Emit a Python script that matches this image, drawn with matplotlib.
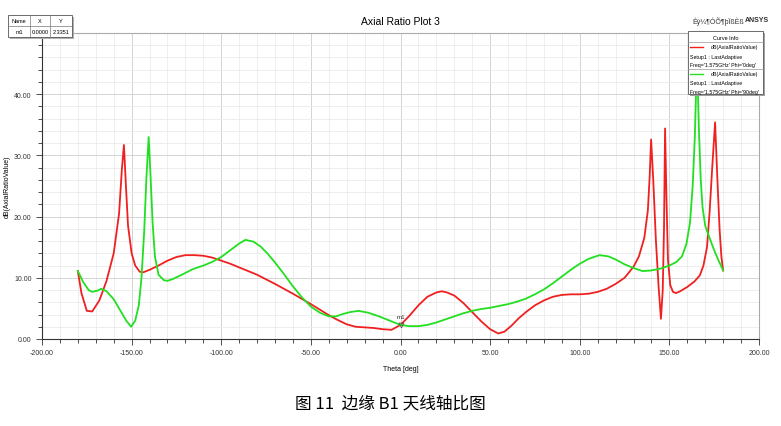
import numpy as np
import matplotlib.pyplot as plt
from matplotlib.patches import Rectangle

plt.rcParams['font.family'] = ['Liberation Sans', 'DejaVu Sans']

# Phi = 0deg (red)
theta_0 = [-180, -178, -175, -172, -168, -164, -160, -157, -155.5, -154.3, -153, -152, -150, -148, -145.5, -143.5,
           -140, -135, -130, -125, -120, -115, -110, -105, -100, -95, -90, -85, -80, -70, -60, -50, -40, -35,
           -30, -25, -20, -15, -10, -5, 0, 5, 10, 15, 20, 23, 26, 30, 35, 40, 45, 50, 54.5, 58, 62, 66, 70,
           75, 80, 85, 90, 95, 100, 105, 110, 115, 120, 125, 130, 133, 136, 138, 139, 139.8, 141, 142.5,
           144, 145.3, 146.3, 147, 147.6, 148.3, 149.2, 150.5, 152, 153.7, 156, 160, 164, 167, 169, 171,
           172.5, 174, 175.5, 176.8, 178, 179, 180]
ar_0 = [11.1, 7.5, 4.6, 4.5, 6.3, 9.5, 14.0, 20.5, 27.5, 31.7, 24.0, 18.5, 14.0, 12.0, 11.0, 10.9,
        11.3, 12.0, 12.8, 13.4, 13.7, 13.7, 13.6, 13.3, 12.8, 12.3, 11.7, 11.1, 10.5, 9.0, 7.4, 5.7, 3.9,
        3.1, 2.4, 2.0, 1.9, 1.8, 1.6, 1.5, 2.3, 3.8, 5.5, 6.9, 7.6, 7.8, 7.6, 7.1, 5.9, 4.4, 2.9, 1.6,
        0.9, 1.2, 2.2, 3.4, 4.4, 5.5, 6.3, 6.9, 7.2, 7.3, 7.3, 7.4, 7.7, 8.2, 9.0, 10.0, 11.8, 13.5,
        16.5, 21.0, 26.5, 32.6, 26.0, 16.0, 8.5, 3.3, 8.0, 18.0, 34.4, 24.0, 13.0, 8.8, 7.7, 7.5, 7.8,
        8.5, 9.4, 10.4, 12.0, 15.0, 21.0, 28.5, 35.4, 26.0, 18.0, 13.5, 11.2]

# Phi = 90deg (green)
theta_90 = [-180, -177, -174, -172, -169, -167, -164, -160, -156, -153, -150.3, -148, -146, -144.5, -143,
            -141.8, -140.5, -139.5, -138.3, -137, -135, -132, -130, -127, -122, -116, -110, -105, -100,
            -95, -90, -86.5, -82, -78, -74, -70, -65, -60, -55, -50, -45, -40, -36, -32, -28, -23.5, -18,
            -12, -6, 0, 5, 10, 15, 20, 25, 30, 35, 40, 45, 50, 55, 60, 65, 70, 75, 80, 85, 90, 95, 100, 105,
            111, 116, 120, 125, 130, 135, 140, 145, 150, 154, 157, 159.5, 161.5, 163, 164.2, 165.4, 166.5,
            167.5, 168.5, 170, 172.7, 175, 177.5, 180]
ar_90 = [11.1, 9.3, 8.0, 7.7, 7.9, 8.2, 7.8, 6.5, 4.5, 3.0, 2.0, 3.0, 5.5, 10.0, 17.5, 26.0, 33.0, 27.0,
         19.0, 13.5, 10.5, 9.6, 9.5, 9.8, 10.5, 11.4, 12.0, 12.6, 13.4, 14.5, 15.6, 16.2, 15.9, 15.1, 13.9,
         12.5, 10.6, 8.6, 6.8, 5.3, 4.3, 3.7, 3.7, 4.1, 4.4, 4.6, 4.3, 3.7, 3.0, 2.3, 2.1, 2.1, 2.3, 2.7,
         3.2, 3.7, 4.2, 4.6, 4.9, 5.1, 5.4, 5.7, 6.1, 6.6, 7.3, 8.1, 9.1, 10.2, 11.3, 12.3, 13.1, 13.7,
         13.5, 13.0, 12.2, 11.6, 11.1, 11.2, 11.5, 12.0, 12.6, 13.5, 15.5, 19.0, 25.0, 33.0, 46.0, 34.0,
         26.0, 21.5, 18.5, 16.3, 14.5, 12.8, 11.2]

marker_name = 'm1'
marker_x = 0.0
marker_y = 2.3351

fig = plt.figure(figsize=(7.81, 4.27), dpi=100)
W, H = 781, 427


def fx(px):
    return px / W


def fy(py):
    return 1 - py / H


ax = fig.add_axes([fx(42), fy(340), fx(759) - fx(42), fy(34) - fy(340)])
ax.plot(theta_0, ar_0, color='#f02020', lw=1.3, zorder=3)
ax.plot(theta_90, ar_90, color='#20e020', lw=1.3, zorder=3)
ax.plot([marker_x], [marker_y], marker='v', ms=3.5, mfc='none', mec='#555555', mew=0.6, zorder=4)
ax.text(marker_x, marker_y + 1.0, marker_name, fontsize=4.5, ha='center', va='bottom', color='#333333')

ax.set_xlim(-200, 200)
ax.set_ylim(0, 50)
ax.set_xticks(np.arange(-200, 201, 50))
ax.set_xticks(np.arange(-200, 201, 10), minor=True)
ax.set_yticks(np.arange(0, 41, 10))
ax.set_yticks(np.arange(0, 50, 2), minor=True)
ax.set_xticklabels(['%.2f' % v for v in np.arange(-200, 201, 50)])
ax.set_yticklabels(['%.2f' % v for v in np.arange(0, 41, 10)])
ax.tick_params(which='both', direction='out', labelsize=5, colors='#333333', width=0.6)
ax.tick_params(which='major', length=4)
ax.tick_params(which='minor', length=3)
ax.grid(which='major', color='#d4d4d4', lw=0.7)
ax.grid(which='minor', color='#ebebeb', lw=0.6)
for side in ['top', 'right']:
    ax.spines[side].set_color('#aaaaaa')
    ax.spines[side].set_linewidth(0.8)
for side in ['left', 'bottom']:
    ax.spines[side].set_color('#333333')
    ax.spines[side].set_linewidth(0.8)
ax.set_xlabel('Theta [deg]', fontsize=5, labelpad=6)
ax.set_ylabel('dB(AxialRatioValue)', fontsize=5, labelpad=2)
ax.yaxis.set_label_coords(-0.044, 0.5)

fig.text(fx(400), fy(22), 'Axial Ratio Plot 3', fontsize=7.5, ha='center', va='center')
fig.text(fx(718), fy(22), 'Èý¼¶ÓÕ¶þÏßÈß', fontsize=5, ha='center', va='center', color='#333333')
fig.text(fx(757), fy(21), 'ANSYS', fontsize=5, ha='center', va='center', color='#333333', weight='bold')

# marker table
tab_x0, tab_x1, tab_x2, tab_x3 = 8, 30, 50, 72
tab_y0, tab_y1, tab_y2 = 16, 27, 38
fig.add_artist(Rectangle((fx(tab_x0 + 2), fy(tab_y2 + 2)), fx(tab_x3 - tab_x0), fy(tab_y0) - fy(tab_y2),
                         transform=fig.transFigure, fc='#b0b0b0', ec='none', zorder=5))
fig.add_artist(Rectangle((fx(tab_x0), fy(tab_y2)), fx(tab_x3 - tab_x0), fy(tab_y0) - fy(tab_y2),
                         transform=fig.transFigure, fc='white', ec='#555555', lw=0.6, zorder=6))
for px in [tab_x1, tab_x2]:
    fig.add_artist(plt.Line2D([fx(px), fx(px)], [fy(tab_y0), fy(tab_y2)], color='#777777', lw=0.5, zorder=7))
fig.add_artist(plt.Line2D([fx(tab_x0), fx(tab_x3)], [fy(tab_y1), fy(tab_y1)], color='#777777', lw=0.5, zorder=7))
for txt, cx in [('Name', 19), ('X', 40), ('Y', 61)]:
    fig.text(fx(cx), fy(21.5), txt, fontsize=4, ha='center', va='center', zorder=8)
for txt, cx in [(marker_name, 19), ('%.4f' % marker_x, 40), ('%.4f' % marker_y, 61)]:
    fig.text(fx(cx), fy(32.5), txt, fontsize=4, ha='center', va='center', zorder=8)

# legend box
lx0, lx1, ly0, ly1 = 688, 763, 32, 95
fig.add_artist(Rectangle((fx(lx0 + 2), fy(ly1 + 2)), fx(lx1 - lx0), fy(ly0) - fy(ly1),
                         transform=fig.transFigure, fc='#a0a0a0', ec='none', zorder=5))
fig.add_artist(Rectangle((fx(lx0), fy(ly1)), fx(lx1 - lx0), fy(ly0) - fy(ly1),
                         transform=fig.transFigure, fc='white', ec='#555555', lw=0.6, zorder=6))
fig.text(fx(726), fy(38), 'Curve Info', fontsize=4, ha='center', va='center', zorder=8)
fig.add_artist(plt.Line2D([fx(lx0), fx(lx1)], [fy(43), fy(43)], color='#999999', lw=0.5, zorder=7))
fig.add_artist(plt.Line2D([fx(lx0), fx(lx1)], [fy(69.5), fy(69.5)], color='#999999', lw=0.5, zorder=7))
entries = [('#f02020', "Freq='1.575GHz' Phi='0deg'", 48), ('#20e020', "Freq='1.575GHz' Phi='90deg'", 74.5)]
for col, freq, yy in entries:
    fig.add_artist(plt.Line2D([fx(690), fx(703)], [fy(yy), fy(yy)], color=col, lw=1.0, zorder=7))
    fig.text(fx(734), fy(yy), 'dB(AxialRatioValue)', fontsize=3.8, ha='center', va='center', zorder=8)
    fig.text(fx(690), fy(yy + 9), 'Setup1 : LastAdaptive', fontsize=3.8, ha='left', va='center', zorder=8)
    fig.text(fx(690), fy(yy + 18), freq, fontsize=3.8, ha='left', va='center', zorder=8)

fig.text(fx(390), fy(404), '图 11  边缘 B1 天线轴比图', fontsize=12, ha='center', va='center',
         family=['Noto Sans CJK SC', 'DejaVu Sans'])

fig.savefig('out.png', dpi=100)
